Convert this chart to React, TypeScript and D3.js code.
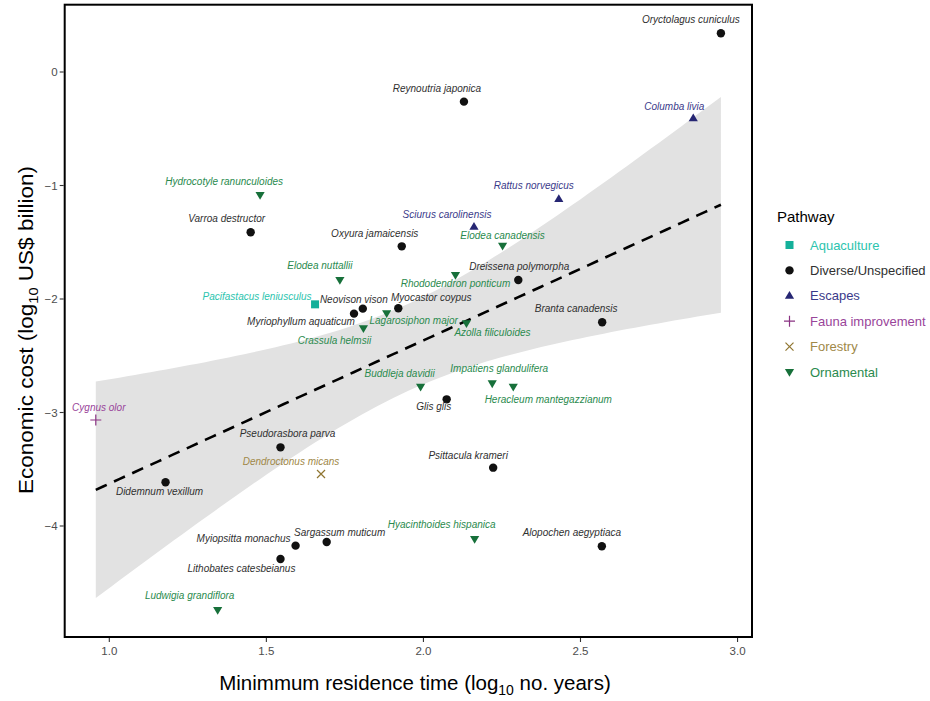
import React from "react";
import * as d3 from "d3";

const species = [
  "Oryctolagus cuniculus", "Reynoutria japonica", "Columba livia", "Hydrocotyle ranunculoides",
  "Rattus norvegicus", "Sciurus carolinensis", "Varroa destructor", "Oxyura jamaicensis",
  "Elodea canadensis", "Rhododendron ponticum", "Elodea nuttallii", "Dreissena polymorpha",
  "Pacifastacus leniusculus", "Myocastor coypus", "Neovison vison", "Lagarosiphon major",
  "Myriophyllum aquaticum", "Branta canadensis", "Azolla filiculoides", "Crassula helmsii",
  "Impatiens glandulifera", "Buddleja davidii", "Heracleum mantegazzianum", "Glis glis",
  "Cygnus olor", "Pseudorasbora parva", "Psittacula krameri", "Dendroctonus micans",
  "Didemnum vexillum", "Hyacinthoides hispanica", "Sargassum muticum", "Myiopsitta monachus",
  "Alopochen aegyptiaca", "Lithobates catesbeianus", "Ludwigia grandiflora",
];

const residence = [
  2.947, 2.129, 2.859, 1.480, 2.431, 2.161, 1.450, 1.931,
  2.252, 2.102, 1.734, 2.302, 1.655, 1.920, 1.807, 1.883,
  1.779, 2.569, 2.137, 1.809, 2.219, 1.991, 2.286, 2.074,
  0.957, 1.545, 2.222, 1.674, 1.179, 2.163, 1.692, 1.593,
  2.568, 1.545, 1.345,
];

const cost = [
  0.341, -0.261, -0.408, -1.084, -1.119, -1.363, -1.412, -1.536,
  -1.530, -1.789, -1.833, -1.833, -2.047, -2.082, -2.085, -2.126,
  -2.129, -2.205, -2.214, -2.258, -2.743, -2.773, -2.773, -2.884,
  -3.066, -3.307, -3.486, -3.542, -3.615, -4.115, -4.141, -4.173,
  -4.179, -4.291, -4.740,
];

const pathwayOf = [
  "Diverse/Unspecified", "Diverse/Unspecified", "Escapes", "Ornamental",
  "Escapes", "Escapes", "Diverse/Unspecified", "Diverse/Unspecified",
  "Ornamental", "Ornamental", "Ornamental", "Diverse/Unspecified",
  "Aquaculture", "Diverse/Unspecified", "Diverse/Unspecified", "Ornamental",
  "Diverse/Unspecified", "Diverse/Unspecified", "Ornamental", "Ornamental",
  "Ornamental", "Ornamental", "Ornamental", "Diverse/Unspecified",
  "Fauna improvement", "Diverse/Unspecified", "Diverse/Unspecified", "Forestry",
  "Diverse/Unspecified", "Ornamental", "Diverse/Unspecified", "Diverse/Unspecified",
  "Diverse/Unspecified", "Diverse/Unspecified", "Ornamental",
];

// label nudges (px) as placed by the repel layout in the reference
const labelDx = [
  -30, -27, -19, -36, -25, -27, -24, -27,
  0, 0, -20, 1, -58, 33, -9, 27,
  -53, -26, 26, -29, 7, -21, 35, -13,
  3, 7, -25, -30, -6, -33, 13, -52,
  -30, -39, -28,
];
const labelDy = [
  -10, -10, -8, -10, -10, -9, -10, -9,
  -7, 12, -11, -10, -4, -7, -6, 11,
  11, -10, 13, 16, -11, -10, 16, 11,
  -9, -10, -9, -9, 13, -11, -6, -4,
  -10, 13, -11,
];

const pathways = ["Aquaculture", "Diverse/Unspecified", "Escapes", "Fauna improvement", "Forestry", "Ornamental"];
const pathwayColors = ["#14b09a", "#111111", "#262673", "#8a3383", "#8f7530", "#17703a"];
const labelColors = ["#2cc4ae", "#303030", "#3a3a8a", "#99449a", "#a08848", "#2a8a4e"];

const xTicks = [1.0, 1.5, 2.0, 2.5, 3.0];
const yTicks = [0, -1, -2, -3, -4];

const W = 930, H = 701;
const FONT = "'Liberation Sans', Arial, Helvetica, sans-serif";

function Marker({ p, x, y, color }: { p: string; x: number; y: number; color: string }) {
  switch (p) {
    case "Aquaculture":
      return <rect x={x - 4} y={y - 4} width={8} height={8} fill={color} />;
    case "Diverse/Unspecified":
      return <circle cx={x} cy={y} r={4.2} fill={color} />;
    case "Escapes":
      return <path d={`M${x},${y - 4.8}L${x + 4.6},${y + 3}L${x - 4.6},${y + 3}Z`} fill={color} />;
    case "Fauna improvement":
      return <path d={`M${x - 5.5},${y}H${x + 5.5}M${x},${y - 5.5}V${y + 5.5}`} stroke={color} strokeWidth={1.2} />;
    case "Forestry":
      return <path d={`M${x - 4},${y - 4}L${x + 4},${y + 4}M${x - 4},${y + 4}L${x + 4},${y - 4}`} stroke={color} strokeWidth={1.2} />;
    default:
      return <path d={`M${x},${y + 4.8}L${x + 4.6},${y - 3}L${x - 4.6},${y - 3}Z`} fill={color} />;
  }
}

export default function App() {
  const left = 64.7, right = 752, top = 4.7, bottom = 637;
  const x = d3.scaleLinear().domain([0.858, 3.046]).range([left, right]);
  const y = d3.scaleLinear().domain([-4.978, 0.593]).range([bottom, top]);

  // linear model fit with 95% confidence band (as geom_smooth(method = "lm"))
  const n = residence.length;
  const xbar = d3.mean(residence)!;
  const ybar = d3.mean(cost)!;
  let sxx = 0, sxy = 0;
  for (let i = 0; i < n; i++) {
    sxx += (residence[i] - xbar) ** 2;
    sxy += (residence[i] - xbar) * (cost[i] - ybar);
  }
  const b = sxy / sxx;
  const a = ybar - b * xbar;
  let sse = 0;
  for (let i = 0; i < n; i++) sse += (cost[i] - a - b * residence[i]) ** 2;
  const s = Math.sqrt(sse / (n - 2));
  const tq = 2.0345;
  const [xmin, xmax] = d3.extent(residence) as [number, number];
  const grid = d3.range(0, 81).map((i) => xmin + ((xmax - xmin) * i) / 80);
  const band = grid.map((gx) => {
    const fit = a + b * gx;
    const se = s * Math.sqrt(1 / n + (gx - xbar) ** 2 / sxx);
    return { gx, lo: fit - tq * se, hi: fit + tq * se, fit };
  });
  const area = d3.area<any>().x((d) => x(d.gx)).y0((d) => y(d.lo)).y1((d) => y(d.hi));
  const line = d3.line<any>().x((d) => x(d.gx)).y((d) => y(d.fit));

  const color = (p: string) => pathwayColors[pathways.indexOf(p)];
  const lcolor = (p: string) => labelColors[pathways.indexOf(p)];

  return (
    <svg width={W} height={H} style={{ position: "absolute", left: 0, top: 0, background: "#fff" }} fontFamily={FONT}>
      <style>{"body{margin:0}"}</style>
      <rect x={0} y={0} width={W} height={H} fill="#fff" />
      <path d={area(band)!} fill="#e2e2e2" />
      <path d={line(band)!} fill="none" stroke="#000" strokeWidth={2.6} strokeDasharray="12,8" />

      {species.map((sp, i) => (
        <Marker key={sp} p={pathwayOf[i]} x={x(residence[i])} y={y(cost[i])} color={color(pathwayOf[i])} />
      ))}
      {species.map((sp, i) => (
        <text key={"l" + sp} x={x(residence[i]) + labelDx[i]} y={y(cost[i]) + labelDy[i]}
          textAnchor="middle" fontSize={10} fontStyle="italic" fill={lcolor(pathwayOf[i])}>{sp}</text>
      ))}

      <rect x={left} y={top} width={right - left} height={bottom - top} fill="none" stroke="#000" strokeWidth={2} />

      {xTicks.map((t) => (
        <g key={"x" + t}>
          <line x1={x(t)} x2={x(t)} y1={bottom + 1} y2={bottom + 5} stroke="#333" strokeWidth={1.1} />
          <text x={x(t)} y={655} textAnchor="middle" fontSize={11.5} fill="#4d4d4d">{t.toFixed(1)}</text>
        </g>
      ))}
      {yTicks.map((t) => (
        <g key={"y" + t}>
          <line x1={left - 5} x2={left - 1} y1={y(t)} y2={y(t)} stroke="#333" strokeWidth={1.1} />
          <text x={left - 7} y={y(t)} dy="0.35em" textAnchor="end" fontSize={11.5} fill="#4d4d4d">
            {t < 0 ? "\u2212" + Math.abs(t) : String(t)}
          </text>
        </g>
      ))}

      <text x={415} y={690} textAnchor="middle" fontSize={20.5} fill="#000">
        Minimmum residence time (log<tspan dy={5} fontSize={14}>10</tspan><tspan dy={-5}> no. years)</tspan>
      </text>
      <text transform="translate(33,330) rotate(-90)" textAnchor="middle" fontSize={20} fill="#000" textLength={328} lengthAdjust="spacingAndGlyphs">
        Economic cost (log<tspan dy={5} fontSize={13}>10</tspan><tspan dy={-5}> US$ billion)</tspan>
      </text>

      <text x={777} y={221.7} fontSize={15} fill="#000">Pathway</text>
      {pathways.map((p, i) => (
        <g key={"lg" + p}>
          <Marker p={p} x={789.5} y={245 + i * 25.4} color={color(p)} />
          <text x={810} y={245 + i * 25.4} dy="0.36em" fontSize={13} fill={lcolor(p)}>{p}</text>
        </g>
      ))}
    </svg>
  );
}
